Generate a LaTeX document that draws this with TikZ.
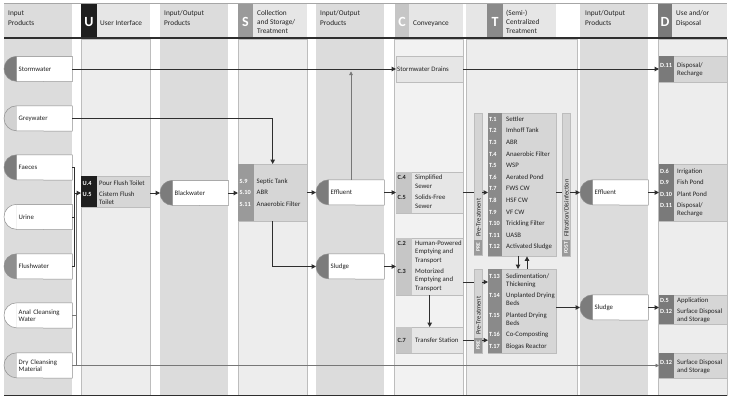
\documentclass[tikz,border=0pt]{standalone}
\usepackage{fontspec}
\setmainfont{Carlito}
\usetikzlibrary{arrows.meta,calc}

\definecolor{iocol}{HTML}{DCDCDC}
\definecolor{lightcol}{HTML}{EDEDED}
\definecolor{lightercol}{HTML}{F2F2F2}
\definecolor{hdrcell}{HTML}{E6E6E6}
\definecolor{boxfill}{HTML}{D6D6D6}
\definecolor{cbox}{HTML}{E6E6E6}
\definecolor{barfill}{HTML}{D4D4D4}
\definecolor{utag}{HTML}{1E1E1E}
\definecolor{stag}{HTML}{9A9A9A}
\definecolor{ctag}{HTML}{C6C6C6}
\definecolor{ttag}{HTML}{8A8A8A}
\definecolor{dtag}{HTML}{7A7A7A}
\definecolor{semidk}{HTML}{7C7C7C}
\definecolor{semimd}{HTML}{8E8E8E}
\definecolor{semilt}{HTML}{D2D2D2}
\definecolor{linecol}{HTML}{2E2E2E}
\definecolor{thincol}{HTML}{777777}
\definecolor{edgecol}{HTML}{BDBDBD}
\definecolor{prodedgecol}{HTML}{8F8F8F}
\definecolor{txtcol}{HTML}{222222}

\tikzset{
  conn/.style={draw=linecol, line width=1pt},
  arr/.style={conn, -{Triangle[length=4.5pt,width=4.5pt]}},
  thinconn/.style={draw=thincol, line width=0.5pt},
  thinarr/.style={thinconn, -{Triangle[length=3.5pt,width=3.5pt]}},
  prodtext/.style={fill=white, inner xsep=2pt, inner ysep=0pt, text width=51.5pt,
    minimum height=25pt, align=left, anchor=west, text=txtcol,
    font=\fontsize{6.8}{7.6}\selectfont},
  prodedge/.style={draw=prodedgecol, line width=0.5pt},
  ibox/.style={draw=edgecol, line width=0.4pt, inner sep=0pt, anchor=north west},
  bar/.style={draw=edgecol, fill=barfill, line width=0.4pt, inner sep=0pt, anchor=north west, minimum width=8pt},
  itemfont/.style={font=\fontsize{6.8}{7.6}\selectfont, text=txtcol, inner sep=0pt, anchor=base west},
  tagfont/.style={font=\fontsize{6.3}{7}\selectfont\bfseries, inner sep=0pt, anchor=base west},
  hdrfont/.style={font=\fontsize{7.3}{8}\selectfont, text=txtcol, inner sep=0pt, anchor=base west},
  bigletter/.style={font=\fontsize{14}{14}\selectfont\bfseries, text=white, inner sep=0pt},
  bartext/.style={font=\fontsize{6.5}{6.5}\selectfont, text=txtcol, inner sep=0pt, rotate=90, anchor=west},
  bartag/.style={font=\fontsize{5.5}{6}\selectfont\bfseries, text=white, inner sep=0pt, rotate=90},
}

\newcommand\prodbox[5]{%
  \node[prodtext] (#1) at ({#2+12.5},#3) {#5};
  \coordinate (#1-w) at (#2,#3);
  \fill[#4] (#1.north west) arc[start angle=90,end angle=270,radius=12.5pt] -- cycle;
  \draw[prodedge] (#1.north west) arc[start angle=90,end angle=270,radius=12.5pt]
     -- (#1.south east) -- (#1.north east) -- cycle;
}
\newcommand\tagl[4][white]{\node[tagfont, text=#1] at (#2,{#3+2.2}) {#4};}
\newcommand\itx[3]{\node[itemfont] at (#1,{#2+2.3}) {#3};}
\newcommand\hdl[3]{\node[hdrfont] at (#1,{#2+2.6}) {#3};}

\begin{document}
\begin{tikzpicture}[x=1pt,y=-1pt]
\useasboundingbox (0,0) rectangle (730,400);
\fill[white] (0,0) rectangle (730,400);

% ---------- column bodies ----------
\fill[iocol] (4,39) rectangle (72,395);
\filldraw[fill=lightcol, draw=edgecol, line width=0.4pt] (81,39) rectangle (150,395);
\fill[iocol] (160,39) rectangle (228,395);
\filldraw[fill=lightcol, draw=edgecol, line width=0.4pt] (238,39) rectangle (307,395);
\fill[iocol] (316,39) rectangle (384,395);
\filldraw[fill=lightercol, draw=edgecol, line width=0.4pt] (394,39) rectangle (463,395);
\filldraw[fill=lightcol, draw=edgecol, line width=0.4pt] (466,39) rectangle (577,395);
\fill[iocol] (580,39) rectangle (648,395);
\filldraw[fill=lightcol, draw=edgecol, line width=0.4pt] (658,39) rectangle (727,395);

% ---------- header ----------
\fill[iocol] (4,4) rectangle (72,37);
\hdl{8}{13}{Input}\hdl{8}{23}{Products}
\fill[utag] (81,4) rectangle (97,37);
\node[bigletter] (hU) at (89,22) {U};
\fill[hdrcell] (97,4) rectangle (150,37);
\hdl{100}{23}{User Interface}
\fill[iocol] (160,4) rectangle (228,37);
\hdl{164}{13}{Input/Output}\hdl{164}{23}{Products}
\fill[stag] (238,4) rectangle (253,37);
\node[bigletter] (hS) at (245.5,22) {S};
\fill[hdrcell] (253,4) rectangle (307,37);
\hdl{257}{13}{Collection}\hdl{257}{22}{and Storage/}\hdl{257}{31}{Treatment}
\fill[iocol] (316,4) rectangle (384,37);
\hdl{320}{13}{Input/Output}\hdl{320}{23}{Products}
\fill[ctag] (395,4) rectangle (409,37);
\node[bigletter] (hC) at (402,22) {C};
\fill[hdrcell] (409,4) rectangle (463,37);
\hdl{413}{23}{Conveyance}
\fill[hdrcell] (466,4) rectangle (487,37);
\fill[ttag] (487,4) rectangle (503,37);
\node[bigletter] (hT) at (495,22) {T};
\fill[hdrcell] (503,4) rectangle (556,37);
\hdl{506}{13}{(Semi-)}\hdl{506}{22}{Centralized}\hdl{506}{31}{Treatment}
\fill[iocol] (580,4) rectangle (648,37);
\hdl{585}{13}{Input/Output}\hdl{585}{23}{Products}
\fill[dtag] (658,4) rectangle (672,37);
\node[bigletter] (hD) at (665,22) {D};
\fill[hdrcell] (672,4) rectangle (727,37);
\hdl{676}{13}{Use and/or}\hdl{676}{23}{Disposal}

\draw[draw=gray!70, line width=0.8pt] (4,3.5) -- (727,3.5);
\draw[draw=linecol, line width=1.2pt] (4,38) -- (727,38);
\draw[draw=linecol, line width=1pt] (4,395.5) -- (727,395.5);

% ---------- input products ----------
\prodbox{storm}{4}{69}{semidk}{Stormwater}
\prodbox{grey}{4}{118.5}{semilt}{Greywater}
\prodbox{faeces}{4}{167.5}{semidk}{Faeces}
\prodbox{urine}{4}{217}{white}{Urine}
\prodbox{flush}{4}{266.5}{semimd}{Flushwater}
\prodbox{anal}{4}{315.5}{white}{Anal Cleansing\\Water}
\prodbox{dry}{4}{365.5}{semilt}{Dry Cleansing\\Material}

% ---------- user interface ----------
\node[ibox, fill=boxfill, minimum width=69, minimum height=31] (ubox) at (81,176) {};
\fill[utag] (ubox.north west) rectangle ($(ubox.south west)+(16,0)$);
\tagl{82.5}{183}{U.4}\itx{99}{183}{Pour Flush Toilet}
\tagl{82.5}{194}{U.5}\itx{99}{194}{Cistern Flush}\itx{99}{202.5}{Toilet}

% ---------- blackwater ----------
\prodbox{bw}{160}{193}{semidk}{Blackwater}

% ---------- collection and storage ----------
\node[ibox, fill=boxfill, minimum width=69, minimum height=57] (sbox) at (238,164) {};
\fill[stag] (sbox.north west) rectangle ($(sbox.south west)+(16,0)$);
\tagl{239.5}{181}{S.9}\itx{256.5}{181}{Septic Tank}
\tagl{239.5}{192}{S.10}\itx{256.5}{192}{ABR}
\tagl{239.5}{204}{S.11}\itx{256.5}{204}{Anaerobic Filter}

% ---------- effluent / sludge ----------
\prodbox{eff1}{316}{192.5}{semidk}{Effluent}
\prodbox{sl1}{316}{266.5}{semidk}{Sludge}

% ---------- conveyance ----------
\node[ibox, fill=cbox, minimum width=67, minimum height=26] (sd) at (396,56) {};
\itx{397}{69}{Stormwater Drains}
\node[ibox, fill=cbox, minimum width=67, minimum height=41] (c45) at (396,172) {};
\fill[ctag] (c45.north west) rectangle ($(c45.south west)+(16,0)$);
\tagl[txtcol]{397.5}{177}{C.4}\itx{415}{177}{Simplified}\itx{415}{186}{Sewer}
\tagl[txtcol]{397.5}{197}{C.5}\itx{415}{197}{Solids-Free}\itx{415}{206}{Sewer}
\node[ibox, fill=cbox, minimum width=67, minimum height=57] (c23) at (396,238) {};
\fill[ctag] (c23.north west) rectangle ($(c23.south west)+(16,0)$);
\tagl[txtcol]{397.5}{243}{C.2}\itx{415}{243}{Human-Powered}\itx{415}{251.5}{Emptying and}\itx{415}{260}{Transport}
\tagl[txtcol]{397.5}{271}{C.3}\itx{415}{271}{Motorized}\itx{415}{279.5}{Emptying and}\itx{415}{288}{Transport}
\node[ibox, fill=cbox, minimum width=67, minimum height=26] (c7) at (396,327) {};
\fill[ctag] (c7.north west) rectangle ($(c7.south west)+(16,0)$);
\tagl[txtcol]{397.5}{340}{C.7}\itx{415}{340}{Transfer Station}

% ---------- pre-treatment bars ----------
\node[bar, minimum height=142] (pre1) at (474,113) {};
\fill[stag] (474,240) rectangle (482,255);
\node[bartag] at (478,247.5) {PRE};
\node[bartext] at (478.6,237) {Pre-Treatment};
\node[bar, minimum height=84] (pre2) at (474,269) {};
\fill[stag] (474,338) rectangle (482,353);
\node[bartag] at (478,345.5) {PRE};
\node[bartext] at (478.6,335) {Pre-Treatment};

% ---------- treatment ----------
\node[ibox, fill=boxfill, minimum width=68, minimum height=143] (t1) at (488,113) {};
\fill[ttag] (t1.north west) rectangle ($(t1.south west)+(14,0)$);
\foreach \tg/\tx [count=\i from 0] in {T.1/Settler, T.2/Imhoff Tank, T.3/ABR, T.4/Anaerobic Filter,
   T.5/WSP, T.6/Aerated Pond, T.7/FWS CW, T.8/HSF CW, T.9/VF CW, T.10/Trickling Filter,
   T.11/UASB, T.12/Activated Sludge}{
  \pgfmathsetmacro\yy{119+11.6*\i}
  \tagl{489}{\yy}{\tg}\itx{506}{\yy}{\tx}
}
\node[ibox, fill=boxfill, minimum width=68, minimum height=84] (t2) at (488,269) {};
\fill[ttag] (t2.north west) rectangle ($(t2.south west)+(14,0)$);
\tagl{489}{276}{T.13}\itx{506}{276}{Sedimentation/}\itx{506}{284.5}{Thickening}
\tagl{489}{295}{T.14}\itx{506}{295}{Unplanted Drying}\itx{506}{303.5}{Beds}
\tagl{489}{315}{T.15}\itx{506}{315}{Planted Drying}\itx{506}{323.5}{Beds}
\tagl{489}{334}{T.16}\itx{506}{334}{Co-Composting}
\tagl{489}{346}{T.17}\itx{506}{346}{Biogas Reactor}

% ---------- post-treatment bar ----------
\node[bar, minimum height=143] (post) at (562,113) {};
\fill[stag] (562,240) rectangle (570,256);
\node[bartag] at (566,248) {POST};
\node[bartext] at (566.6,237) {Filtration/Disinfection};

% ---------- output products ----------
\prodbox{eff2}{580}{192.5}{semidk}{Effluent}
\prodbox{sl2}{580}{307.5}{semidk}{Sludge}

% ---------- use and/or disposal ----------
\node[ibox, fill=boxfill, minimum width=68, minimum height=26] (d11) at (659,56) {};
\fill[dtag] (d11.north west) rectangle ($(d11.south west)+(15,0)$);
\tagl{660}{65}{D.11}\itx{677}{65}{Disposal/}\itx{677}{73.5}{Recharge}
\node[ibox, fill=boxfill, minimum width=68, minimum height=57] (dbox2) at (659,164) {};
\fill[dtag] (dbox2.north west) rectangle ($(dbox2.south west)+(15,0)$);
\tagl{660}{171}{D.6}\itx{677}{171}{Irrigation}
\tagl{660}{182}{D.9}\itx{677}{182}{Fish Pond}
\tagl{660}{194}{D.10}\itx{677}{194}{Plant Pond}
\tagl{660}{205}{D.11}\itx{677}{205}{Disposal/}\itx{677}{213.5}{Recharge}
\node[ibox, fill=boxfill, minimum width=68, minimum height=29] (dbox3) at (659,295) {};
\fill[dtag] (dbox3.north west) rectangle ($(dbox3.south west)+(15,0)$);
\tagl{660}{300}{D.5}\itx{677}{300}{Application}
\tagl{660}{311}{D.12}\itx{677}{311}{Surface Disposal}\itx{677}{319.5}{and Storage}
\node[ibox, fill=boxfill, minimum width=68, minimum height=25] (dbox4) at (659,353) {};
\fill[dtag] (dbox4.north west) rectangle ($(dbox4.south west)+(15,0)$);
\tagl{660}{362}{D.12}\itx{677}{362}{Surface Disposal}\itx{677}{370.5}{and Storage}

% ---------- connectors ----------
\coordinate (busD) at (74.5,193);
\coordinate (busL) at (76.5,193);
\draw[thinconn] (anal.east) -| (busL);
\draw[thinconn] (dry.east -| busL) -- (busL);
\draw[thinarr] (dry.east) -- (dbox4.west |- dry.east);
\draw[conn] (faeces.east) -| (busD);
\draw[conn] (urine.east) -| (busD);
\draw[conn] (flush.east) -| (busD);
\draw[arr] (busD) -- (ubox.west |- busD);

\draw[arr] (storm.east) -- (sd.west |- storm.east);
\draw[arr] (sd.east |- storm.east) -- (d11.west |- storm.east);
\draw[arr] (grey.east) -| (sbox.north);
\draw[arr] (ubox.east |- busD) -- (bw-w);
\draw[arr] (bw.east) -- (sbox.west |- bw.east);
\draw[arr] (sbox.east |- eff1.east) -- (eff1-w);
\draw[arr] (sbox.south) |- (sl1-w);
\coordinate (upend) at (351,71.5);
\draw[thinarr] (eff1.north -| upend) -- (upend);
\draw[arr] (eff1.east) -- (c45.west |- eff1.east);
\draw[arr] (sl1.east) -- (c23.west |- sl1.east);
\draw[arr] (c23.south) -- (c7.north);

\draw[conn] (c45.east |- eff1.east) -- (pre1.west |- eff1.east);
\draw[arr] (pre1.east |- eff1.east) -- (t1.west |- eff1.east);
\coordinate (lvC) at (0,282);
\draw[conn] (c23.east |- lvC) -- (pre2.west |- lvC);
\draw[arr] (pre2.east |- lvC) -- (t2.west |- lvC);
\draw[conn] (c7.east) -- (pre2.west |- c7.east);
\draw[arr] (pre2.east |- c7.east) -- (t2.west |- c7.east);

\coordinate (dnx) at (518,0);
\coordinate (upx) at (527,0);
\draw[arr] (t1.south -| dnx) -- (t2.north -| dnx);
\draw[arr] (t2.north -| upx) -- (t1.south -| upx);

\draw[conn] (t1.east |- eff2.east) -- (post.west |- eff2.east);
\draw[arr] (post.east |- eff2.east) -- (eff2-w);
\draw[arr] (t2.east |- sl2.east) -- (sl2-w);
\draw[arr] (eff2.east) -- (dbox2.west |- eff2.east);
\draw[arr] (sl2.east) -- (dbox3.west |- sl2.east);
\end{tikzpicture}
\end{document}
